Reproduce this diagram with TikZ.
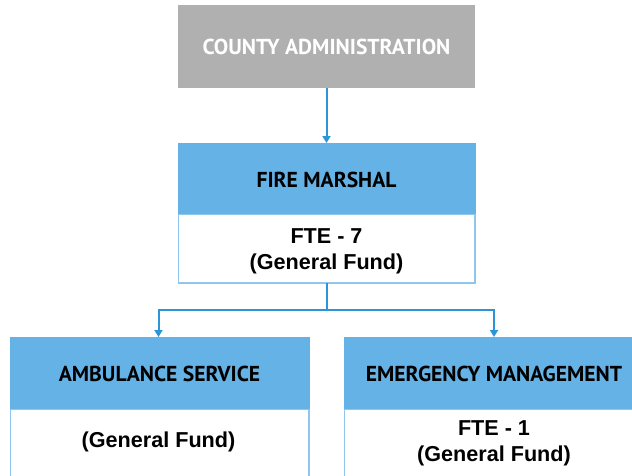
\documentclass[tikz,border=0pt]{standalone}
\usepackage{fontspec}
\setmainfont{Liberation Sans}
\newfontfamily\headfont{PT Sans}
\usetikzlibrary{arrows.meta}
\definecolor{hdrblue}{HTML}{64B2E6}
\definecolor{lineblue}{HTML}{2B95D8}
\definecolor{bordblue}{HTML}{8FC6EE}
\definecolor{admgray}{HTML}{B0B0B0}
\tikzset{
  x=1pt,y=-1pt,
  hfont/.style={font=\headfont\bfseries\fontsize{21.6}{24}\selectfont},
  hdr/.style={fill=hdrblue,draw=none,inner sep=0pt,hfont},
  bodybox/.style={fill=white,draw=bordblue,line width=1.4pt},
  bodytext/.style={inner sep=0pt,align=center,font=\bfseries\fontsize{21.6}{26}\selectfont},
  conn/.style={draw=lineblue,line width=2pt},
  arr/.style={conn,-{Triangle[width=8pt,length=7pt]}}
}
\begin{document}
\begin{tikzpicture}
\useasboundingbox (0,0) rectangle (632,475);
\clip (0,0) rectangle (632,475);
% county administration
\fill[admgray] (178,5) rectangle (475,88);
\node[inner sep=0pt,text=white,hfont] (adm) at (326.5,46.5) {COUNTY ADMINISTRATION};
\coordinate (admb) at (326.5,88);
% fire marshal
\draw[bodybox] (178.5,214) rectangle (475,283);
\fill[hdrblue] (178,143) rectangle (475.5,214);
\node[hdr] (fm) at (326.5,180) {FIRE MARSHAL};
\node[bodytext] (fmb) at (326.5,251) {FTE - 7\\(General Fund)};
\coordinate (fmt) at (326.5,143);
\coordinate (fmbot) at (326.5,283);
% ambulance
\draw[bodybox] (10.5,409) rectangle (309,490);
\fill[hdrblue] (10,337) rectangle (309.5,409);
\node[hdr] (amb) at (159.5,374) {AMBULANCE SERVICE};
\node[bodytext] (ambb) at (158.5,441.5) {(General Fund)};
\coordinate (ambt) at (158.5,337);
% emergency
\draw[bodybox] (344.5,409) rectangle (645,490);
\fill[hdrblue] (344,337) rectangle (645,409);
\node[hdr] (em) at (494,374) {EMERGENCY MANAGEMENT};
\node[bodytext] (emb) at (494,443) {FTE - 1\\(General Fund)};
\coordinate (emt) at (494,337);
% connectors
\coordinate (junc) at (326.5,310);
\draw[arr] (admb) -- (fmt);
\draw[conn] (fmbot) -- (junc);
\draw[arr] (junc) -| (ambt);
\draw[arr] (junc) -| (emt);
\end{tikzpicture}
\end{document}
